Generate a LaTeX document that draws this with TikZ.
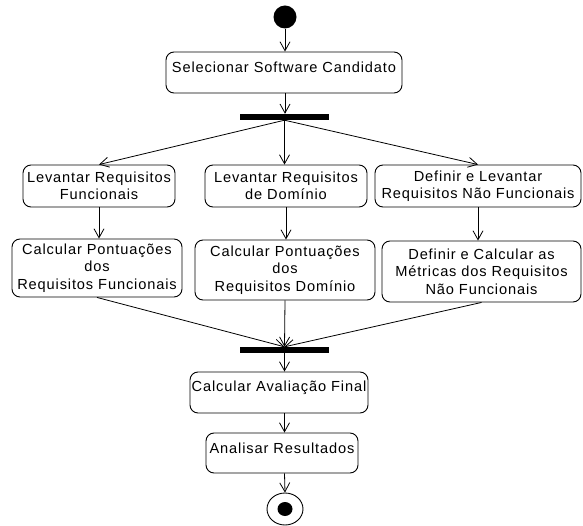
\documentclass[tikz,border=0pt]{standalone}
\usepackage{fontspec}
\setmainfont{Liberation Sans}[LetterSpace=6]
\usetikzlibrary{arrows.meta,shapes.geometric}
\begin{document}
\begin{tikzpicture}[x=1pt,y=1pt,
  box/.style={draw,line width=0.9pt,rounded corners=8pt,inner sep=0pt},
  txt/.style={inner sep=0pt,align=center,font=\fontsize{14.6}{17.5}\selectfont},
  bar/.style={fill=black,draw=none,minimum width=89pt,minimum height=6pt,inner sep=0pt},
  flow/.style={line width=0.8pt,-{Straight Barb[length=9pt,width=10pt,line width=0.8pt]}}]
\useasboundingbox (0,0) rectangle (583,-526);
% initial state
\node[circle,fill=black,minimum size=23pt,inner sep=0pt] (start) at (285,-17) {};
% boxes
\node[box,minimum width=236pt,minimum height=41pt] (sel) at (284,-72.5) {};
\node[txt] (selt) at ([yshift=5pt]sel.center) {Selecionar Software Candidato};
\node[bar] (fork1) at (284.5,-117) {};
\node[box,minimum width=152pt,minimum height=42pt] (r1a) at (99,-186) {};
\node[txt] (r1at) at (r1a.center) {Levantar Requisitos\\Funcionais};
\node[box,minimum width=162pt,minimum height=42pt] (r1b) at (286,-186) {};
\node[txt] (r1bt) at (r1b.center) {Levantar Requisitos\\de Domínio};
\node[box,minimum width=206pt,minimum height=42pt] (r1c) at (478,-186) {};
\node[txt] (r1ct) at (r1c.center) {Definir e Levantar\\Requisitos Não Funcionais};
\node[box,minimum width=170pt,minimum height=58pt] (r2a) at (97,-268) {};
\node[txt] (r2at) at (r2a.center) {Calcular Pontuações\\dos\\Requisitos Funcionais};
\node[box,minimum width=180pt,minimum height=60pt] (r2b) at (285,-270) {};
\node[txt] (r2bt) at (r2b.center) {Calcular Pontuações\\dos\\Requisitos Domínio};
\node[box,minimum width=199pt,minimum height=61pt] (r2c) at (481.5,-271.5) {};
\node[txt] (r2ct) at (r2c.center) {Definir e Calcular as\\Métricas dos Requisitos\\Não Funcionais};
\node[bar] (fork2) at (284.5,-350) {};
\node[box,minimum width=178pt,minimum height=41pt] (calc) at (279,-392.5) {};
\node[txt] (calct) at ([yshift=5pt]calc.center) {Calcular Avaliação Final};
\node[box,minimum width=152pt,minimum height=40pt] (anal) at (282,-453) {};
\node[txt] (analt) at ([yshift=5pt]anal.center) {Analisar Resultados};
% final state
\node[ellipse,draw,line width=0.9pt,minimum width=36pt,minimum height=32pt,inner sep=0pt] (final) at (285,-509) {};
\node[ellipse,fill=black,minimum width=15pt,minimum height=14pt,inner sep=0pt] (finaldot) at (final.center) {};
% connectors
\draw[flow] (start.south) -- (start.south |- sel.north);
\draw[flow] (start.south |- sel.south) -- (start.south |- fork1.north);
\draw[flow] (fork1.south) -- (r1a.north);
\draw[flow] (fork1.south) -- (fork1.south |- r1b.north);
\draw[flow] (fork1.south) -- (r1c.north);
\draw[flow] (r1a.south) -- (r1a.south |- r2a.north);
\draw[flow] (r1b.south) -- (r1b.south |- r2b.north);
\draw[flow] (r1c.south) -- (r1c.south |- r2c.north);
\draw[flow] (r2a.south) -- (fork2.north);
\draw[flow] (r2b.south) -- (fork2.north);
\draw[flow] (r2c.south) -- (fork2.north);
\draw[flow] (fork2.south) -- (fork2.south |- calc.north);
\draw[flow] (fork2.south |- calc.south) -- (fork2.south |- anal.north);
\draw[flow] (fork2.south |- anal.south) -- (final.north);
\end{tikzpicture}
\end{document}
